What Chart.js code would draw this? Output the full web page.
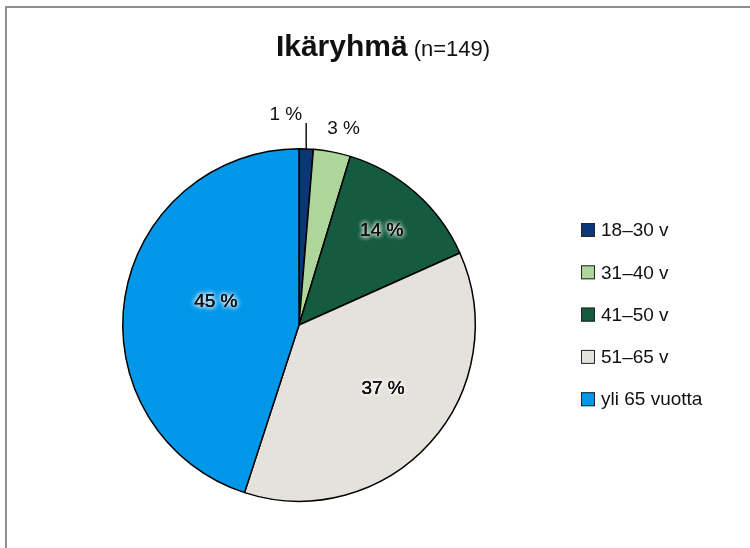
<!DOCTYPE html>
<html>
<head>
<meta charset="utf-8">
<script src="https://cdn.jsdelivr.net/npm/chart.js@4/dist/chart.umd.min.js"></script>
<style>
  body { margin: 0; background: #fff; }
  #wrap { width: 750px; height: 548px; }
</style>
</head>
<body>
<div id="wrap"><canvas id="ika" width="750" height="548"></canvas></div>
<script>
// data (percent of n=149)
const ageGroups = ['18–30 v', '31–40 v', '41–50 v', '51–65 v', 'yli 65 vuotta'];
const sharePct = [1.3, 3.4, 13.6, 36.7, 45.0];
const sliceColors = ['#0b3779', '#aed59a', '#145b3f', '#e5e2db', '#0397ea'];
const titleMain = 'Ikäryhmä';
const titleSub = '(n=149)';

// where each percent label goes: inside at a radius fraction, or outside
const labelSpots = [
  { outside: true, leader: 26 },
  { outside: true, dist: 24, dx: 7 },
  { r: 0.71, a: 0 },
  { r: 0.6, a: -4.6 },
  { r: 0.49, a: 6.5 }
];

const frameAndTitle = {
  id: 'frameAndTitle',
  beforeDraw(chart) {
    const ctx = chart.ctx;
    ctx.save();
    ctx.fillStyle = '#fff';
    ctx.fillRect(0, 0, chart.width, chart.height);
    ctx.fillStyle = '#8f8f8f';
    ctx.fillRect(5, 6, chart.width - 5, 2);
    ctx.fillRect(5, 6, 2, chart.height - 6);
    ctx.restore();
  },
  afterDraw(chart) {
    const ctx = chart.ctx;
    ctx.save();
    ctx.fillStyle = '#111';
    ctx.textBaseline = 'alphabetic';
    ctx.font = 'bold 30px "Liberation Sans", Arial, sans-serif';
    const w1 = ctx.measureText(titleMain).width;
    ctx.font = '22px "Liberation Sans", Arial, sans-serif';
    const w2 = ctx.measureText(titleSub).width;
    const gap = 6;
    let x = 383 - (w1 + gap + w2) / 2;
    ctx.font = 'bold 30px "Liberation Sans", Arial, sans-serif';
    ctx.fillText(titleMain, x, 56);
    ctx.font = '22px "Liberation Sans", Arial, sans-serif';
    ctx.fillText(titleSub, x + w1 + gap, 56);
    ctx.restore();
  }
};

const sideLegend = {
  id: 'sideLegend',
  afterDraw(chart) {
    const ctx = chart.ctx;
    const ds = chart.data.datasets[0];
    ctx.save();
    ctx.font = '19px "Liberation Sans", Arial, sans-serif';
    ctx.textBaseline = 'middle';
    chart.data.labels.forEach(function(lbl, i) {
      const y = 230 + i * 42.3;
      ctx.fillStyle = ds.backgroundColor[i];
      ctx.fillRect(581, y - 7, 14, 14);
      ctx.strokeStyle = '#262626';
      ctx.lineWidth = 1;
      ctx.strokeRect(581.5, y - 6.5, 13, 13);
      ctx.fillStyle = '#111';
      ctx.fillText(lbl, 601, y + 1);
    });
    ctx.restore();
  }
};

const pctLabels = {
  id: 'pctLabels',
  afterDatasetsDraw(chart) {
    const ctx = chart.ctx;
    const meta = chart.getDatasetMeta(0);
    const vals = chart.data.datasets[0].data;
    ctx.save();
    ctx.font = '19px "Liberation Sans", Arial, sans-serif';
    ctx.textBaseline = 'middle';
    meta.data.forEach(function(arc, i) {
      const p = arc.getProps(['x', 'y', 'startAngle', 'endAngle', 'outerRadius'], true);
      const spot = labelSpots[i];
      const txt = Math.round(vals[i]) + ' %';
      const mid = (p.startAngle + p.endAngle) / 2;
      if (spot.outside && spot.leader) {
        const ex = p.x + Math.cos(mid) * p.outerRadius;
        const ey = p.y + Math.sin(mid) * p.outerRadius;
        ctx.strokeStyle = '#111';
        ctx.lineWidth = 1.5;
        ctx.beginPath();
        ctx.moveTo(ex, ey);
        ctx.lineTo(ex, ey - spot.leader);
        ctx.stroke();
        ctx.fillStyle = '#111';
        ctx.textAlign = 'right';
        ctx.fillText(txt, ex - 4, ey - spot.leader - 8);
      } else if (spot.outside) {
        const d = p.outerRadius + spot.dist;
        ctx.fillStyle = '#111';
        ctx.textAlign = 'center';
        ctx.fillText(txt, p.x + Math.cos(mid) * d + (spot.dx || 0), p.y + Math.sin(mid) * d);
      } else {
        const ang = mid + spot.a * Math.PI / 180;
        const d = p.outerRadius * spot.r;
        const lx = p.x + Math.cos(ang) * d;
        const ly = p.y + Math.sin(ang) * d;
        ctx.textAlign = 'center';
        ctx.shadowColor = 'rgba(255,255,255,0.95)';
        ctx.shadowBlur = 5;
        ctx.fillStyle = '#111';
        for (let k = 0; k < 3; k++) {
          ctx.fillText(txt, lx, ly);
        }
        ctx.shadowBlur = 0;
        ctx.fillText(txt, lx, ly);
      }
    });
    ctx.restore();
  }
};

new Chart(
  document.getElementById('ika'),
  {
    type: 'pie',
    data: {
      labels: ageGroups,
      datasets: [{
        data: sharePct,
        backgroundColor: sliceColors,
        borderColor: '#000',
        borderWidth: 1.5
      }]
    },
    options: {
      responsive: false,
      animation: false,
      layout: { padding: { left: 122, top: 148, right: 274, bottom: 46 } },
      plugins: {
        legend: { display: false },
        tooltip: { enabled: false },
        title: { display: false }
      }
    },
    plugins: [frameAndTitle, pctLabels, sideLegend]
  }
);
</script>
</body>
</html>
